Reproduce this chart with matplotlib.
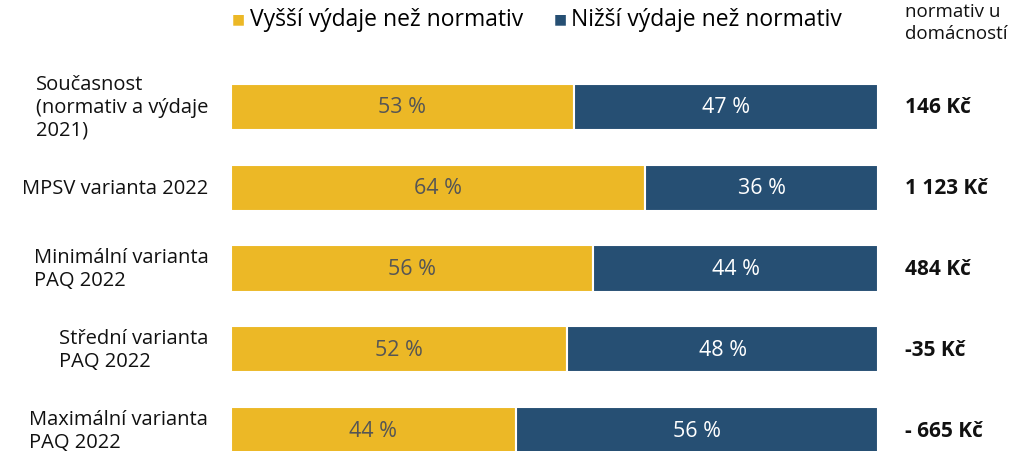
import matplotlib
matplotlib.use("Agg")
from matplotlib import pyplot as plt

plt.rcParams['font.family'] = ['Open Sans', 'DejaVu Sans']

categories = ["Současnost\n(normativ a výdaje\n2021)", "MPSV varianta 2022",
              "Minimální varianta\nPAQ 2022", "Střední varianta\nPAQ 2022",
              "Maximální varianta\nPAQ 2022"]
higher = [53, 64, 56, 52, 44]
lower = [47, 36, 44, 48, 56]
diff_labels = ["146 Kč", "1 123 Kč", "484 Kč", "-35 Kč", "- 665 Kč"]
legend_labels = ["Vyšší výdaje než normativ", "Nižší výdaje než normativ"]

yellow = "#ECB826"
blue = "#264F73"

fig = plt.figure(figsize=(10.11, 4.52), dpi=100)
ax = fig.add_axes([231 / 1011, 0, (878 - 231) / 1011, 1])

ypos = list(range(len(categories)))
ax.barh(ypos, higher, height=0.57, color=yellow, edgecolor="white", linewidth=1.5)
ax.barh(ypos, lower, left=higher, height=0.57, color=blue, edgecolor="white", linewidth=1.5)

for i in ypos:
    ax.text(higher[i] / 2, i, f"{higher[i]} %", ha="center", va="center",
            fontsize=15.5, color="#555555")
    ax.text(higher[i] + lower[i] / 2, i, f"{lower[i]} %", ha="center", va="center",
            fontsize=15.5, color="white")
    ax.text(-3.5, i, categories[i], ha="right", va="center", fontsize=14.5,
            multialignment="left", linespacing=1.2, color="#111111")
    ax.text(104.2, i, diff_labels[i], ha="left", va="center", fontsize=15,
            fontweight="bold", color="#111111")

ax.set_xlim(0, 100)
ax.set_ylim(4.26, -1.337)
ax.axis("off")

# legend drawn as text + squares
fig.text(238 / 1011, 1 - 20 / 452, "■", color=yellow, fontsize=10, ha="center", va="center")
fig.text(250 / 1011, 1 - 20 / 452, legend_labels[0], fontsize=16.5, ha="left", va="center")
fig.text(560 / 1011, 1 - 20 / 452, "■", color=blue, fontsize=10, ha="center", va="center")
fig.text(571 / 1011, 1 - 20 / 452, legend_labels[1], fontsize=16.5, ha="left", va="center")

# header of the right column
fig.text(905 / 1011, 1 - 12 / 452, "normativ u", fontsize=13.5, ha="left", va="center",
         color="#111111")
fig.text(905 / 1011, 1 - 34 / 452, "domácností", fontsize=13.5, ha="left", va="center",
         color="#111111")

fig.savefig("out.png", dpi=100)
